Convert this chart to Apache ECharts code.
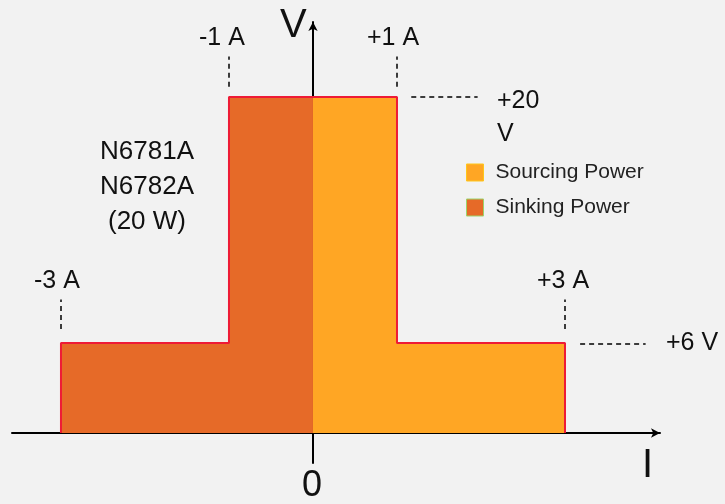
<!DOCTYPE html>
<html>
<head>
<meta charset="utf-8">
<script src="https://cdn.jsdelivr.net/npm/echarts@6/dist/echarts.min.js"></script>
<style>html,body{margin:0;padding:0;background:#f2f2f2}#c{width:725px;height:504px}</style>
</head>
<body>
<div id="c"></div>
<script>
// Data (current in A, voltage in V) – diagram is not drawn to scale; levels
var sinkCurrent = [-3, -3, -1, -1, 0];
var sinkVoltage = [0, 5.36, 5.36, 20, 20];
var sourceCurrent = [0, 1, 1, 3, 3];
var sourceVoltage = [20, 20, 5.36, 5.36, 0];
var seriesNames = ['Sourcing Power', 'Sinking Power'];
var currentLabels = ['-3 A', '-1 A', '+1 A', '+3 A'];
var currentTickValues = [-3, -1, 1, 3];
var voltageLabels = ['+20\nV', '+6 V'];
var modelLines = ['N6781A', 'N6782A', '(20 W)'];

var FONT = '"Liberation Sans", Arial, sans-serif';
var sinkFill = '#E66A28', sourceFill = '#FFA624', edge = '#EE1B36';

function pairs(xs, ys) { return xs.map(function (x, i) { return [x, ys[i]]; }); }

var dash = { color: '#000', width: 1.5, type: [5, 4] };
var guideLines = [
  [{ coord: [currentTickValues[0], 6.19] }, { coord: [currentTickValues[0], 7.95] }],
  [{ coord: [currentTickValues[1], 20.6] }, { coord: [currentTickValues[1], 22.4] }],
  [{ coord: [currentTickValues[2], 20.6] }, { coord: [currentTickValues[2], 22.4] }],
  [{ coord: [currentTickValues[3], 6.19] }, { coord: [currentTickValues[3], 7.95] }],
  [{ coord: [1.17, 20] }, { coord: [1.96, 20] }],
  [{ coord: [3.18, 5.3] }, { coord: [3.96, 5.3] }]
];

var textEls = [
  { type: 'text', left: 280, top: 6, style: { text: 'V', font: '40px ' + FONT, fill: '#111' } },
  { type: 'text', left: 642, top: 446, style: { text: 'I', font: '40px ' + FONT, fill: '#111' } },
  { type: 'text', left: 302, top: 468, style: { text: '0', font: '36px ' + FONT, fill: '#111' } },
  { type: 'text', left: 199, top: 26, style: { text: currentLabels[1], font: '25px ' + FONT, fill: '#111' } },
  { type: 'text', left: 367, top: 26, style: { text: currentLabels[2], font: '25px ' + FONT, fill: '#111' } },
  { type: 'text', left: 34, top: 269, style: { text: currentLabels[0], font: '25px ' + FONT, fill: '#111' } },
  { type: 'text', left: 537, top: 269, style: { text: currentLabels[3], font: '25px ' + FONT, fill: '#111' } },
  { type: 'text', left: 497, top: 85, style: { text: voltageLabels[0], font: '25px ' + FONT, fill: '#111', lineHeight: 33 } },
  { type: 'text', left: 666, top: 331, style: { text: voltageLabels[1], font: '25px ' + FONT, fill: '#111' } }
];
modelLines.forEach(function (t, i) {
  textEls.push({ type: 'text', x: 147, y: 152 + i * 35,
    style: { text: t, font: '26px ' + FONT, fill: '#111', align: 'center', verticalAlign: 'middle' } });
});

var chart = echarts.init(document.getElementById('c'), null, { renderer: 'canvas' });
chart.setOption({
  backgroundColor: '#f2f2f2',
  animation: false,
  grid: { left: 12, top: 22, width: 648, height: 441 },
  xAxis: {
    type: 'value', min: -3.583, max: 4.131,
    axisLine: { onZero: true, lineStyle: { color: '#000', width: 2 }, symbol: ['none', 'arrow'], symbolSize: [7, 9] },
    axisTick: { show: false }, axisLabel: { show: false }, splitLine: { show: false }
  },
  yAxis: {
    type: 'value', min: -1.786, max: 24.46,
    axisLine: { onZero: true, lineStyle: { color: '#000', width: 2 }, symbol: ['none', 'arrow'], symbolSize: [7, 9] },
    axisTick: { show: false }, axisLabel: { show: false }, splitLine: { show: false }
  },
  legend: {
    orient: 'vertical', left: 466, top: 162, padding: 0, itemWidth: 17, itemHeight: 17, itemGap: 14,
    icon: 'rect',
    textStyle: { fontFamily: FONT, fontSize: 21, color: '#222', padding: [0, 0, 0, 7] },
    data: [
      { name: seriesNames[0], itemStyle: { color: sourceFill, borderColor: '#FFC61A', borderWidth: 1 } },
      { name: seriesNames[1], itemStyle: { color: sinkFill, borderColor: '#9CD46A', borderWidth: 1 } }
    ]
  },
  series: [
    {
      name: seriesNames[0], type: 'line', data: pairs(sourceCurrent, sourceVoltage),
      showSymbol: false, z: 2, color: sourceFill,
      lineStyle: { color: edge, width: 2 },
      areaStyle: { color: sourceFill, opacity: 1 }
    },
    {
      name: seriesNames[1], type: 'line', data: pairs(sinkCurrent, sinkVoltage),
      showSymbol: false, z: 2, color: sinkFill,
      lineStyle: { color: edge, width: 2 },
      areaStyle: { color: sinkFill, opacity: 1 },
      markLine: { silent: true, symbol: 'none', label: { show: false }, lineStyle: dash, data: guideLines }
    }
  ],
  graphic: textEls
});
</script>
</body>
</html>
